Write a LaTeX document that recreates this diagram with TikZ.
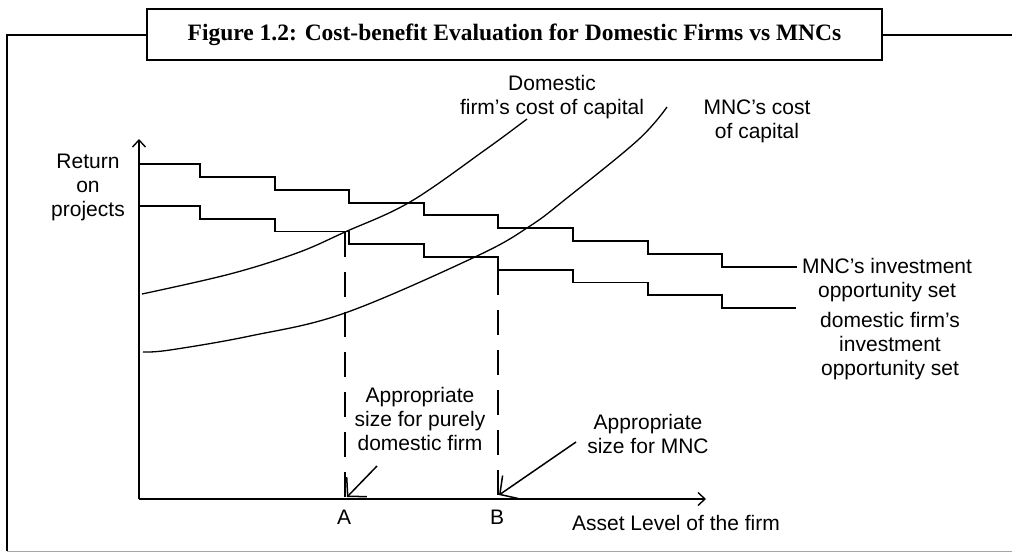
\documentclass[tikz,border=0pt]{standalone}
\usepackage{fontspec}
\setmainfont{Liberation Sans}
\newfontfamily\titlefont{Liberation Serif}
\usetikzlibrary{arrows.meta}
\begin{document}
\begin{tikzpicture}[x=1pt,y=-1pt,
  lbl/.style={font=\fontsize{21}{24}\selectfont, align=center, inner sep=0pt},
  stair/.style={line width=1.9pt},
  cost/.style={line width=1.3pt},
  axis/.style={line width=1.4pt, -{Straight Barb[length=7pt,width=13pt]}},
  guide/.style={line width=1.9pt, dash pattern=on 25pt off 15pt},
  pointer/.style={line width=1.5pt, -{Straight Barb[length=13pt,width=28pt]}},
  frame/.style={line width=1.7pt}]
\useasboundingbox (0,0) rectangle (1012,552);
% frame and title
\node[draw, frame, fill=white, minimum width=735pt, minimum height=51pt, inner sep=0pt,
      font=\titlefont\bfseries\fontsize{23.5}{26}\selectfont] (title) at (514.5,34.5)
  {Figure 1.2: Cost-benefit Evaluation for Domestic Firms vs MNCs};
\coordinate (fTL) at (7,35);
\coordinate (fBL) at (7,551);
\coordinate (fBR) at (1012,551);
\coordinate (fTR) at (1012,35);
\draw[frame] (title.west |- fTL) -- (fTL) -- (fBL);
\draw[frame] (title.east |- fTR) -- (fTR);
\draw[gray!70, line width=1pt] (fBL) -- (fBR);
% axes
\coordinate (O) at (139,499);
\coordinate (Ytop) at (139,139);
\coordinate (Xend) at (706,499);
\draw[axis] (O) -- (Ytop);
\draw[axis] (O) -- (Xend);
% stairs
\draw[stair] (139,164) -- (200,164) -- (200,176.9) -- (274.6,176.9) -- (274.6,189.7)
  -- (349.2,189.7) -- (349.2,202.6) -- (423.8,202.6) -- (423.8,215.4) -- (498.4,215.4)
  -- (498.4,228.3) -- (573,228.3) -- (573,241.1) -- (647.6,241.1) -- (647.6,254)
  -- (722.2,254) -- (722.2,266.8) -- (797,266.8) coordinate (mncEnd);
\draw[stair] (139,206) -- (200,206) -- (200,218.8) -- (274.6,218.8) -- (274.6,231.5)
  -- (349.2,231.5) -- (349.2,244.3) -- (423.8,244.3) -- (423.8,257) -- (498.4,257)
  -- (498.4,269.8) -- (573,269.8) -- (573,282.5) -- (647.6,282.5) -- (647.6,295.3)
  -- (722.2,295.3) -- (722.2,308) -- (796,308) coordinate (domEnd);
% cost of capital curves
\draw[cost] plot[smooth, tension=0.6] coordinates {(142,294) (230,274) (297,253) (345,232) (410,202) (485,150) (527,119)};
\draw[cost] plot[smooth, tension=0.6] coordinates {(143,352) (170,350) (250,336) (345,313) (477,256) (530,226) (567,198) (638,140) (667,107)};
% dashed guides
\coordinate (Atop) at (345,231.5);
\coordinate (Abot) at (345,499);
\coordinate (Btop) at (498.4,269.8);
\coordinate (Bbot) at (498.4,499);
\draw[guide] (Atop) -- (Abot);
\draw[guide] (Btop) -- (Bbot);
% labels
\node[lbl] (ylab) at (88,187) {Return\\on\\projects};
\node[lbl] (domcost) at (552,97) {Domestic\\firm’s cost of capital};
\node[lbl] (mnccost) at (757,121) {MNC’s cost\\of capital};
\node[lbl] (mncset) at (887,280) {MNC’s investment\\opportunity set};
\node[lbl] (domset) at (890,346) {domestic firm’s\\investment\\opportunity set};
\node[lbl] (sizeA) at (420,418.5) {Appropriate\\size for purely\\domestic firm};
\node[lbl] (sizeB) at (648,433.5) {Appropriate\\size for MNC};
\node[lbl] (labA) at (344,517) {A};
\node[lbl] (labB) at (497,517) {B};
\node[lbl] (xlab) at (676,523) {Asset Level of the firm};
% pointers
\coordinate (pA0) at (377,466);
\coordinate (pA1) at (347,497);
\coordinate (pB0) at (576,442);
\coordinate (pB1) at (499,495);
\draw[pointer] (pA0) -- (pA1);
\draw[pointer] (pB0) -- (pB1);
\end{tikzpicture}
\end{document}
